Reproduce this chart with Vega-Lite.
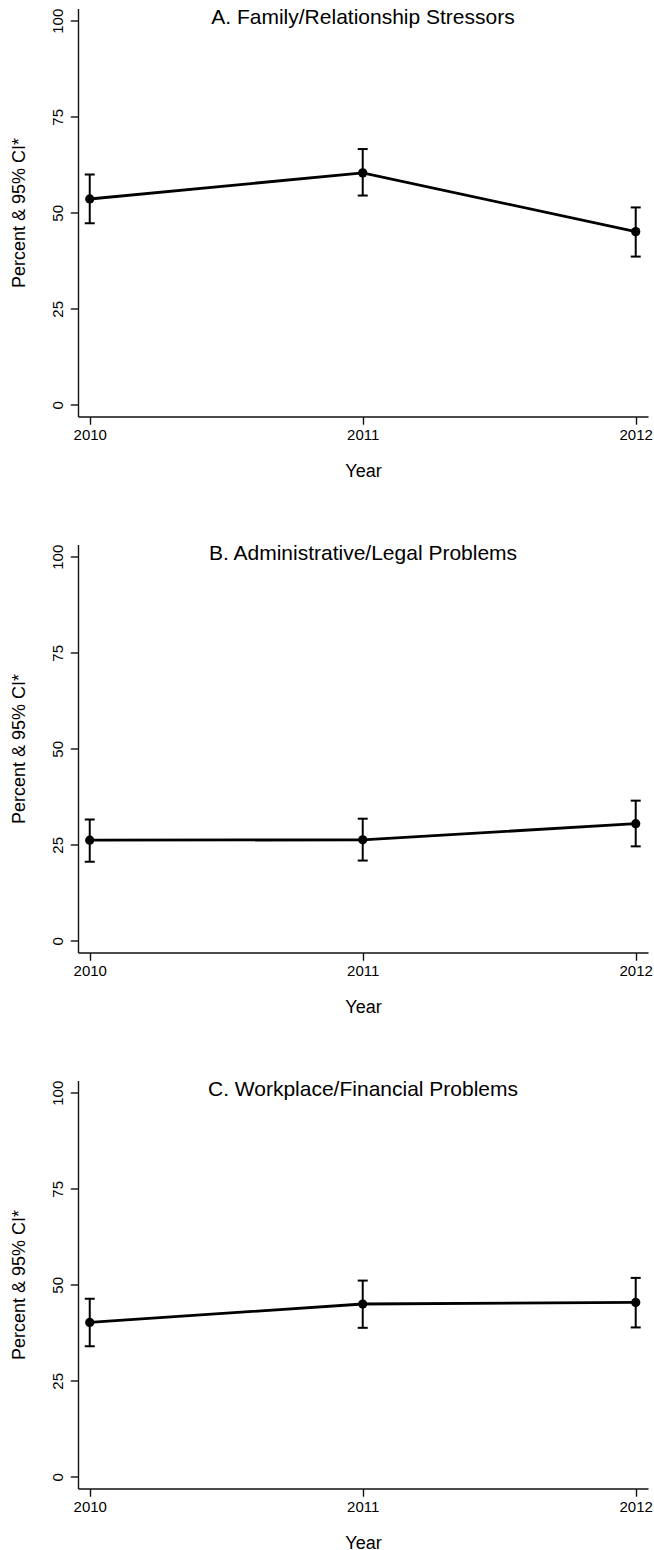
{
  "$schema": "https://vega.github.io/schema/vega-lite/v6.json",
  "background": "white",
  "padding": {"left": 10, "top": 6.5, "right": 0, "bottom": 0},
  "spacing": 62,
  "config": {
    "view": {"stroke": null},
    "font": "Liberation Sans",
    "axis": {"grid": false, "domainColor": "#111", "domainWidth": 1.4, "tickColor": "#111", "tickWidth": 1.4, "tickSize": 7.7, "labelColor": "#000", "labelFont": "Liberation Sans", "labelFontSize": 15, "titleFont": "Liberation Sans", "titleFontSize": 18, "titleFontWeight": "normal", "titleColor": "#000"},
    "axisX": {"labelAngle": 0, "labelPadding": 3, "titleY": 59.6, "titleBaseline": "alphabetic", "labelFlush": false, "labelOverlap": false},
    "axisY": {"labelAngle": 270, "labelAlign": "center", "labelBaseline": "alphabetic", "labelPadding": 8, "titleX": -53.3, "titleBaseline": "alphabetic", "titleAngle": 270, "titleAlign": "center", "labelOverlap": false},
    "title": {"fontSize": 21, "font": "Liberation Sans", "fontWeight": "normal", "color": "#000", "anchor": "middle", "frame": "group", "baseline": "alphabetic", "offset": -20}
  },
  "datasets": {
    "stressors": [
      {"panel": "A", "year": 2010, "pct": 53.6, "lo": 47.3, "hi": 60.0},
      {"panel": "A", "year": 2011, "pct": 60.4, "lo": 54.5, "hi": 66.6},
      {"panel": "A", "year": 2012, "pct": 45.1, "lo": 38.6, "hi": 51.4},
      {"panel": "B", "year": 2010, "pct": 26.2, "lo": 20.6, "hi": 31.6},
      {"panel": "B", "year": 2011, "pct": 26.3, "lo": 20.9, "hi": 31.8},
      {"panel": "B", "year": 2012, "pct": 30.5, "lo": 24.6, "hi": 36.5},
      {"panel": "C", "year": 2010, "pct": 40.2, "lo": 34.0, "hi": 46.4},
      {"panel": "C", "year": 2011, "pct": 45.0, "lo": 38.8, "hi": 51.1},
      {"panel": "C", "year": 2012, "pct": 45.4, "lo": 38.9, "hi": 51.8}
    ]
  },
  "vconcat": [
    {
      "width": 570, "height": 408,
      "title": "A. Family/Relationship Stressors",
      "data": {"name": "stressors"},
      "transform": [{"filter": "datum.panel === 'A'"}],
      "encoding": {"x": {"field": "year", "type": "quantitative", "scale": {"domain": [2009.957, 2012.045], "nice": false, "zero": false}, "axis": {"tickCount": 2, "format": "d", "title": "Year"}}},
      "layer": [
        {"mark": {"type": "line", "color": "#000", "strokeWidth": 2.8}, "encoding": {"y": {"field": "pct", "type": "quantitative", "title": "Percent & 95% CI*", "scale": {"domain": [-3.04, 103.2], "nice": false, "zero": false}, "axis": {"values": [0, 25, 50, 75, 100]}}}},
        {"mark": {"type": "rule", "color": "#000", "strokeWidth": 2}, "encoding": {"y": {"field": "lo", "type": "quantitative", "title": "Percent & 95% CI*"}, "y2": {"field": "hi"}}},
        {"mark": {"type": "tick", "orient": "horizontal", "color": "#000", "thickness": 2, "size": 10, "opacity": 1}, "encoding": {"y": {"field": "lo", "type": "quantitative", "title": "Percent & 95% CI*"}}},
        {"mark": {"type": "tick", "orient": "horizontal", "color": "#000", "thickness": 2, "size": 10, "opacity": 1}, "encoding": {"y": {"field": "hi", "type": "quantitative", "title": "Percent & 95% CI*"}}},
        {"mark": {"type": "point", "filled": true, "color": "#000", "size": 85, "opacity": 1}, "encoding": {"y": {"field": "pct", "type": "quantitative", "title": "Percent & 95% CI*"}}}
      ]
    },
    {
      "width": 570, "height": 408,
      "title": "B. Administrative/Legal Problems",
      "data": {"name": "stressors"},
      "transform": [{"filter": "datum.panel === 'B'"}],
      "encoding": {"x": {"field": "year", "type": "quantitative", "scale": {"domain": [2009.957, 2012.045], "nice": false, "zero": false}, "axis": {"tickCount": 2, "format": "d", "title": "Year"}}},
      "layer": [
        {"mark": {"type": "line", "color": "#000", "strokeWidth": 2.8}, "encoding": {"y": {"field": "pct", "type": "quantitative", "title": "Percent & 95% CI*", "scale": {"domain": [-3.04, 103.2], "nice": false, "zero": false}, "axis": {"values": [0, 25, 50, 75, 100]}}}},
        {"mark": {"type": "rule", "color": "#000", "strokeWidth": 2}, "encoding": {"y": {"field": "lo", "type": "quantitative", "title": "Percent & 95% CI*"}, "y2": {"field": "hi"}}},
        {"mark": {"type": "tick", "orient": "horizontal", "color": "#000", "thickness": 2, "size": 10, "opacity": 1}, "encoding": {"y": {"field": "lo", "type": "quantitative", "title": "Percent & 95% CI*"}}},
        {"mark": {"type": "tick", "orient": "horizontal", "color": "#000", "thickness": 2, "size": 10, "opacity": 1}, "encoding": {"y": {"field": "hi", "type": "quantitative", "title": "Percent & 95% CI*"}}},
        {"mark": {"type": "point", "filled": true, "color": "#000", "size": 85, "opacity": 1}, "encoding": {"y": {"field": "pct", "type": "quantitative", "title": "Percent & 95% CI*"}}}
      ]
    },
    {
      "width": 570, "height": 408,
      "title": "C. Workplace/Financial Problems",
      "data": {"name": "stressors"},
      "transform": [{"filter": "datum.panel === 'C'"}],
      "encoding": {"x": {"field": "year", "type": "quantitative", "scale": {"domain": [2009.957, 2012.045], "nice": false, "zero": false}, "axis": {"tickCount": 2, "format": "d", "title": "Year"}}},
      "layer": [
        {"mark": {"type": "line", "color": "#000", "strokeWidth": 2.8}, "encoding": {"y": {"field": "pct", "type": "quantitative", "title": "Percent & 95% CI*", "scale": {"domain": [-3.04, 103.2], "nice": false, "zero": false}, "axis": {"values": [0, 25, 50, 75, 100]}}}},
        {"mark": {"type": "rule", "color": "#000", "strokeWidth": 2}, "encoding": {"y": {"field": "lo", "type": "quantitative", "title": "Percent & 95% CI*"}, "y2": {"field": "hi"}}},
        {"mark": {"type": "tick", "orient": "horizontal", "color": "#000", "thickness": 2, "size": 10, "opacity": 1}, "encoding": {"y": {"field": "lo", "type": "quantitative", "title": "Percent & 95% CI*"}}},
        {"mark": {"type": "tick", "orient": "horizontal", "color": "#000", "thickness": 2, "size": 10, "opacity": 1}, "encoding": {"y": {"field": "hi", "type": "quantitative", "title": "Percent & 95% CI*"}}},
        {"mark": {"type": "point", "filled": true, "color": "#000", "size": 85, "opacity": 1}, "encoding": {"y": {"field": "pct", "type": "quantitative", "title": "Percent & 95% CI*"}}}
      ]
    }
  ]
}
